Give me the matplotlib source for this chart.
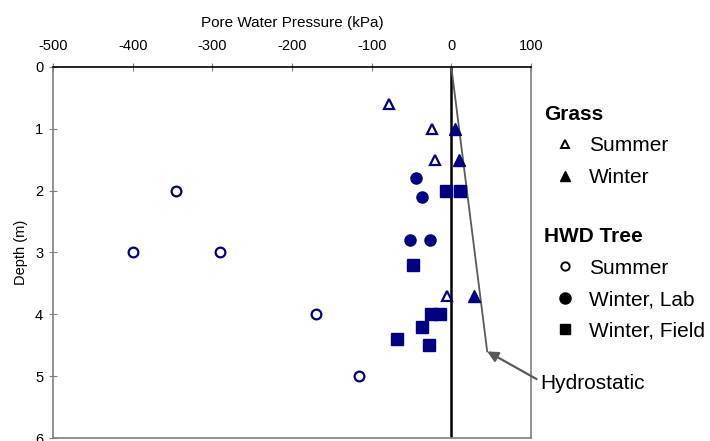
import matplotlib.pyplot as plt
from matplotlib.lines import Line2D

plt.rcParams['font.family'] = ['Liberation Sans', 'DejaVu Sans']
plt.rcParams['axes.unicode_minus'] = False

navy = '#000080'

# Grass site (kPa, m)
grass_summer_p = [-78, -24, -20, -6]
grass_summer_d = [0.6, 1.0, 1.5, 3.7]
grass_winter_p = [4, 10, 28]
grass_winter_d = [1.0, 1.5, 3.7]

# HWD tree site
tree_summer_p = [-345, -400, -290, -170, -116]
tree_summer_d = [2.0, 3.0, 3.0, 4.0, 5.0]
tree_lab_p = [-44, -37, -52, -27]
tree_lab_d = [1.8, 2.1, 2.8, 2.8]
tree_field_p = [-7, 11, -48, -25, -14, -37, -68, -28]
tree_field_d = [2.0, 2.0, 3.2, 4.0, 4.0, 4.2, 4.4, 4.5]

# hydrostatic line
hydro_p = [0, 45]
hydro_d = [0, 4.6]

fig = plt.figure(figsize=(7.1, 4.41), dpi=100)
ax = fig.add_axes([0.0746, 0.0068, 0.6733, 0.8413])

ax.axvline(0, color='black', lw=1.8, zorder=1)
ax.plot(hydro_p, hydro_d, color='#5a5a5a', lw=1.3, zorder=2)

ax.plot(grass_summer_p, grass_summer_d, ls='none', marker='^', ms=7.5,
        mfc='white', mec=navy, mew=1.6, zorder=3)
ax.plot(grass_winter_p, grass_winter_d, ls='none', marker='^', ms=8,
        mfc=navy, mec=navy, zorder=3)
ax.plot(tree_summer_p, tree_summer_d, ls='none', marker='o', ms=7,
        mfc='white', mec=navy, mew=1.6, zorder=3)
ax.plot(tree_lab_p, tree_lab_d, ls='none', marker='o', ms=8,
        mfc=navy, mec=navy, zorder=3)
ax.plot(tree_field_p, tree_field_d, ls='none', marker='s', ms=8,
        mfc=navy, mec=navy, zorder=3)

ax.annotate('Hydrostatic', xy=(hydro_p[1], hydro_d[1]), xytext=(112, 5.12),
            fontsize=15, va='center', ha='left', annotation_clip=False,
            arrowprops=dict(arrowstyle='-|>', color='#5a5a5a', lw=1.6,
                            mutation_scale=16, shrinkA=1, shrinkB=0,
                            relpos=(0, 0.62)))

ax.set_xlim(-500, 100)
ax.set_ylim(6, 0)
ax.set_xticks(range(-500, 101, 100))
ax.set_yticks(range(0, 7))
ax.xaxis.tick_top()
ax.xaxis.set_label_position('top')
ax.tick_params(axis='both', direction='inout', length=6, width=0.8,
               labelsize=10.5, colors='#7f7f7f', labelcolor='black')
ax.tick_params(axis='x', pad=7)
ax.tick_params(axis='y', pad=4)
ax.set_xlabel('Pore Water Pressure (kPa)', fontsize=11, labelpad=9)
ax.set_ylabel('Depth (m)', fontsize=10.5, labelpad=5)

for side in ['left', 'bottom', 'right']:
    ax.spines[side].set_color('#7f7f7f')
    ax.spines[side].set_linewidth(1.2)
ax.spines['top'].set_color('black')
ax.spines['top'].set_linewidth(1.2)

grass_handles = [
    Line2D([], [], ls='none', marker='^', ms=6, mfc='white', mec='black', mew=1.4),
    Line2D([], [], ls='none', marker='^', ms=7, mfc='black', mec='black'),
]
tree_handles = [
    Line2D([], [], ls='none', marker='o', ms=6, mfc='white', mec='black', mew=1.4),
    Line2D([], [], ls='none', marker='o', ms=8, mfc='black', mec='black'),
    Line2D([], [], ls='none', marker='s', ms=6.5, mfc='black', mec='black'),
]

legend_opts = dict(loc='upper left', frameon=False, fontsize=15,
                   title_fontsize=15, alignment='left', handlelength=2.0,
                   handletextpad=0.15, labelspacing=0.6, borderpad=0,
                   borderaxespad=0)
leg1 = fig.legend(grass_handles, ['Summer', 'Winter'], title='Grass',
                  bbox_to_anchor=(0.766, 0.762), **legend_opts)
leg1.get_title().set_fontweight('bold')
leg2 = fig.legend(tree_handles, ['Summer', 'Winter, Lab', 'Winter, Field'],
                  title='HWD Tree', bbox_to_anchor=(0.766, 0.485),
                  **legend_opts)
leg2.get_title().set_fontweight('bold')

fig.savefig('out.png', dpi=100)
